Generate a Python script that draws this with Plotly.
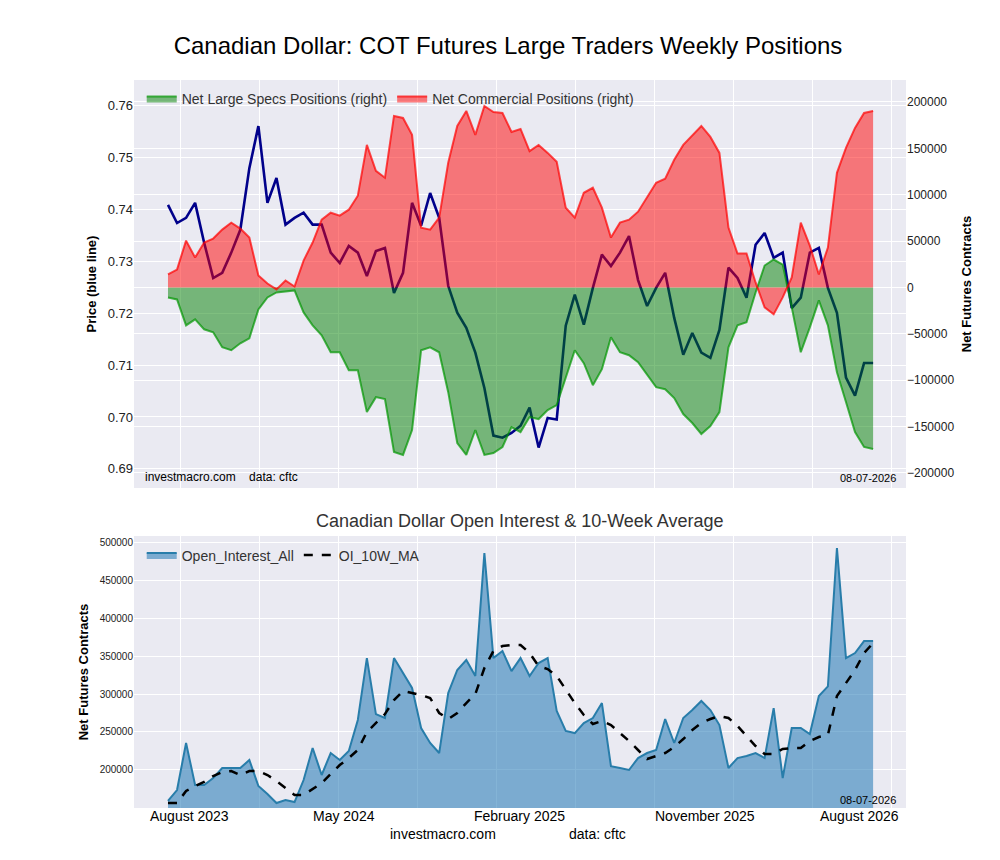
import plotly.graph_objects as go

# biweekly samples, Aug 2023 -> Aug 2026
price = [0.7409, 0.7374, 0.7384, 0.7413, 0.7336, 0.7268, 0.7278, 0.7317, 0.7361, 0.7480,
         0.7561, 0.7413, 0.7461, 0.7371, 0.7384, 0.7394, 0.7371, 0.7371, 0.7317, 0.7297,
         0.7330, 0.7317, 0.7272, 0.7320, 0.7326, 0.7239, 0.7278, 0.7413, 0.7369, 0.7432,
         0.7384, 0.7253, 0.7201, 0.7172, 0.7124, 0.7056, 0.6964, 0.6960, 0.6969, 0.6983,
         0.7018, 0.6941, 0.6998, 0.6995, 0.7176, 0.7236, 0.7178, 0.7249, 0.7313, 0.7291,
         0.7317, 0.7349, 0.7264, 0.7214, 0.7249, 0.7278, 0.7191, 0.7120, 0.7162, 0.7124,
         0.7114, 0.7168, 0.7288, 0.7268, 0.7230, 0.7332, 0.7355, 0.7307, 0.7317, 0.7210,
         0.7230, 0.7317, 0.7326, 0.7249, 0.7201, 0.7076, 0.7041, 0.7104, 0.7104]

large_specs = [-10750, -12900, -40850, -34400, -45150, -48400, -64500, -67700, -60200, -54800,
               -23650, -10750, -5400, -4300, -3200, -26900, -40850, -51600, -69900, -69900,
               -89200, -89200, -134400, -118250, -120400, -177400, -180600, -153700, -67700, -64500,
               -69900, -112900, -167700, -180600, -153700, -180600, -178500, -172000, -150500, -155900,
               -139750, -141900, -132200, -126900, -96750, -67700, -81700, -105400, -88150, -53750,
               -69900, -73100, -80600, -93500, -107500, -109700, -119300, -136500, -146200, -158000,
               -149400, -134400, -64500, -40850, -37600, -5400, 23650, 30100, 24700, -21500,
               -69900, -43000, -14000, -40850, -91400, -123600, -155900, -172000, -174150]

commercial = [14000, 19350, 50500, 32250, 48400, 52700, 62350, 69900, 63400, 53750,
              12900, 4300, -2150, 7500, 1000, 29000, 48400, 73100, 80600, 77400,
              83850, 98900, 153700, 125800, 118250, 184900, 182750, 164500, 64500, 62350,
              75250, 134400, 174150, 190300, 164500, 195650, 189200, 188100, 167700, 170900,
              147000, 153700, 145100, 135450, 86000, 75250, 102100, 107500, 86000, 53750,
              69900, 73100, 81700, 96750, 112900, 117200, 137600, 153700, 163400, 174150,
              162300, 145100, 64500, 36550, 36550, 5400, -21500, -29000, -10750, 10750,
              69900, 45150, 14000, 43000, 123600, 150500, 172000, 188100, 190300]

open_interest = [159200, 173600, 235500, 180200, 180200, 189400, 202600, 202600, 202600, 213100,
                 178900, 168400, 156500, 160500, 157800, 186800, 228900, 193400, 222300, 213100,
                 225000, 265800, 347300, 273600, 268400, 347300, 327600, 307900, 255200, 235500,
                 222300, 301300, 331600, 344700, 323700, 485500, 347300, 356600, 330200, 347300,
                 323700, 340800, 347300, 277600, 251300, 248600, 261800, 268400, 288100, 205000,
                 202600, 200000, 215700, 222300, 226300, 267000, 235500, 268400, 278900, 290800,
                 278900, 259200, 202600, 215700, 218400, 222300, 215700, 281500, 189400, 255200,
                 255200, 247300, 297300, 310000, 492000, 347300, 353900, 369700, 369700]

oi_ma = [156500, 156500, 172300, 178900, 184200, 192100, 197300, 198600, 193400, 198600,
         198600, 193400, 185500, 176300, 167100, 167100, 175000, 182800, 194700, 206500,
         215700, 226300, 250000, 261800, 273600, 292100, 303900, 301300, 298700, 294700,
         275000, 267100, 275000, 288100, 300000, 334200, 356600, 363100, 364500, 364500,
         353900, 336800, 332900, 323700, 305200, 288100, 272300, 260500, 264400, 259200,
         248600, 238100, 226300, 214400, 218400, 222300, 230200, 240700, 252600, 261800,
         267100, 271000, 268400, 257900, 244700, 231500, 221000, 221000, 227600, 228900,
         228900, 238100, 243400, 246000, 297300, 314400, 331600, 353900, 367100]

tick_labels = ["August 2023", "May 2024", "February 2025", "November 2025", "August 2026"]
tick_pos = [2.4, 19.5, 38.9, 59.4, 76.5]

x = list(range(len(price)))
grid_x = [1.33 + 8.75 * k for k in range(10)]
BG = "#EAEAF2"
FONT = "Liberation Sans, Arial, sans-serif"

fig = go.Figure()
fig.add_trace(go.Scatter(x=x, y=price, mode="lines", line=dict(color="#00008B", width=2.6),
                         showlegend=False, xaxis="x", yaxis="y"))
fig.add_trace(go.Scatter(x=x, y=large_specs, mode="lines", fill="tozeroy", name="Net Large Specs Positions (right)",
                         line=dict(color="rgba(0,150,0,0.7)", width=2), fillcolor="rgba(0,128,0,0.5)",
                         xaxis="x", yaxis="y2", legend="legend"))
fig.add_trace(go.Scatter(x=x, y=commercial, mode="lines", fill="tozeroy", name="Net Commercial Positions (right)",
                         line=dict(color="rgba(255,0,0,0.7)", width=2), fillcolor="rgba(255,0,0,0.5)",
                         xaxis="x", yaxis="y2", legend="legend"))
fig.add_trace(go.Scatter(x=x, y=open_interest, mode="lines", fill="tozeroy", name="Open_Interest_All",
                         line=dict(color="rgb(40,125,170)", width=2), fillcolor="rgba(31,119,180,0.55)",
                         xaxis="x2", yaxis="y3", legend="legend2"))
fig.add_trace(go.Scatter(x=x, y=oi_ma, mode="lines", name="OI_10W_MA",
                         line=dict(color="black", width=2.5, dash="dash"),
                         xaxis="x2", yaxis="y3", legend="legend2"))

xcommon = dict(range=[-3.76, 81.64], tickvals=grid_x, ticktext=[""] * len(grid_x),
               showgrid=True, gridcolor="white", gridwidth=1, zeroline=False, ticks="")
fig.update_layout(
    width=1000, height=860, paper_bgcolor="white", plot_bgcolor=BG,
    font=dict(family=FONT, color="#222"),
    margin=dict(l=126, r=102, t=0, b=0),
    title=dict(text="Canadian Dollar: COT Futures Large Traders Weekly Positions", x=0.5, y=0.956,
               xanchor="center", yanchor="middle", font=dict(size=24, color="black")),
    xaxis=dict(domain=[0, 1], anchor="y", **xcommon),
    xaxis2=dict(domain=[0, 1], anchor="y3", **xcommon),
    yaxis=dict(domain=[0.4419, 0.9163], range=[0.6863, 0.7650], tickvals=[0.69, 0.70, 0.71, 0.72, 0.73, 0.74, 0.75, 0.76],
               tickformat=".2f", gridcolor="white", zeroline=False, tickfont=dict(size=13),
               title=dict(text="<b>Price (blue line)</b>", font=dict(size=13, color="black"), standoff=8)),
    yaxis2=dict(overlaying="y", side="right", range=[-216200, 223700],
                tickvals=[-200000, -150000, -100000, -50000, 0, 50000, 100000, 150000, 200000],
                tickformat="d", gridcolor="white", zeroline=False, tickfont=dict(size=12),
                title=dict(text="<b>Net Futures Contracts</b>", font=dict(size=13, color="black"), standoff=8)),
    yaxis3=dict(domain=[0.0698, 0.386], range=[150000, 507900],
                tickvals=[200000, 250000, 300000, 350000, 400000, 450000, 500000],
                tickformat="d", gridcolor="white", zeroline=False, tickfont=dict(size=10),
                title=dict(text="<b>Net Futures Contracts</b>", font=dict(size=13, color="black"), standoff=8)),
    legend=dict(orientation="h", x=0.01, y=0.913, xanchor="left", yanchor="top",
                bgcolor="rgba(0,0,0,0)", font=dict(size=14, color="#333")),
    legend2=dict(orientation="h", x=0.01, y=0.382, xanchor="left", yanchor="top",
                 bgcolor="rgba(0,0,0,0)", font=dict(size=14, color="#333")),
)

ann = [
    dict(text="Canadian Dollar Open Interest & 10-Week Average", x=0.5, y=1 - 513 / 860, xref="paper", yref="paper",
         showarrow=False, font=dict(size=18, color="#333"), yanchor="middle"),
    dict(text="investmacro.com    data: cftc", x=0.012, y=1 - 478 / 860, xref="paper", yref="paper",
         xanchor="left", yanchor="bottom", showarrow=False, font=dict(size=12, color="black")),
    dict(text="08-07-2026", x=0.99, y=1 - 478 / 860, xref="paper", yref="paper",
         xanchor="right", yanchor="bottom", showarrow=False, font=dict(size=11, color="black")),
    dict(text="08-07-2026", x=0.99, y=1 - 800 / 860, xref="paper", yref="paper",
         xanchor="right", yanchor="bottom", showarrow=False, font=dict(size=11, color="black")),
    dict(text="investmacro.com", x=435, y=1 - 836 / 860, xref="x2", yref="paper", showarrow=False,
         font=dict(size=14, color="black")),
    dict(text="data: cftc", x=590, y=1 - 836 / 860, xref="x2", yref="paper", showarrow=False,
         font=dict(size=14, color="black")),
]
# footer positions given in pixels; convert to x2 data units
for a in ann[4:]:
    a["x"] = (a["x"] - 160) / 9.04
for lab, pos in zip(tick_labels, tick_pos):
    ann.append(dict(text=lab, x=pos, y=1 - 808 / 860, xref="x2", yref="paper", showarrow=False,
                    yanchor="middle", font=dict(size=14, color="black")))
fig.update_layout(annotations=ann)

fig.write_html("out.html")
